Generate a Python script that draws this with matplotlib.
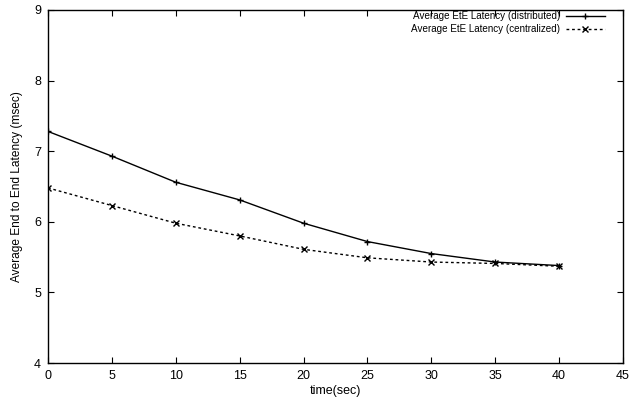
import matplotlib
matplotlib.use("Agg")
import matplotlib.pyplot as plt

# time (sec) and average end-to-end latency (msec)
time_sec = [0, 5, 10, 15, 20, 25, 30, 35, 40]
distributed = [7.28, 6.93, 6.56, 6.31, 5.98, 5.72, 5.55, 5.43, 5.38]
centralized = [6.48, 6.23, 5.98, 5.80, 5.61, 5.49, 5.43, 5.41, 5.37]

plt.rcParams['font.family'] = ['Liberation Sans', 'DejaVu Sans']
plt.rcParams['font.size'] = 9

fig = plt.figure(figsize=(6.31, 4.0), dpi=100)
ax = fig.add_axes([48/631, 37/400, (623-48)/631, (363-10)/400])

ax.plot(time_sec, distributed, color='black', lw=1, marker='+', ms=5, mew=1,
        label='Average EtE Latency (distributed)')
ax.plot(time_sec, centralized, color='black', lw=1, ls=(0, (2, 2)), marker='x', ms=4, mew=1,
        label='Average EtE Latency (centralized)')

ax.set_xlim(0, 45)
ax.set_ylim(4, 9)
ax.set_xticks(range(0, 46, 5))
ax.set_yticks(range(4, 10))
ax.tick_params(direction='in', top=True, right=True, length=4, width=0.8, pad=5)
for s in ax.spines.values():
    s.set_linewidth(1)

ax.set_xlabel('time(sec)', labelpad=2)
ax.set_ylabel('Average End to End Latency (msec)', labelpad=8, fontsize=8.6)

ax.legend(loc='upper right', bbox_to_anchor=(605/631, 1 - 11/400),
          bbox_transform=fig.transFigure, frameon=False, markerfirst=False,
          fontsize=7.1, handlelength=4.0, borderaxespad=0, borderpad=0,
          labelspacing=0.3, handletextpad=0.55)

fig.savefig('out.png', dpi=100)
